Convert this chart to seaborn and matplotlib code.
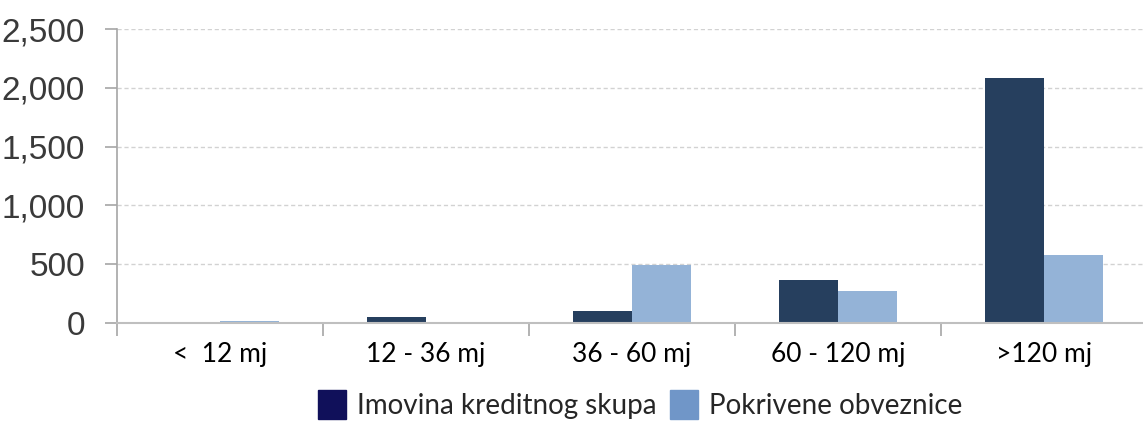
import matplotlib
matplotlib.use("Agg")
import matplotlib.pyplot as plt
import matplotlib.patches as mpatches
import seaborn as sns
import pandas as pd

categories = ["<  12 mj", "12 - 36 mj", "36 - 60 mj", "60 - 120 mj", ">120 mj"]
series_names = ["Imovina kreditnog skupa", "Pokrivene obveznice"]
imovina = [0, 48, 102, 366, 2083]
pokrivene = [15, 0, 493, 272, 578]
yticks = [0, 500, 1000, 1500, 2000, 2500]

df = pd.DataFrame({
    "cat": categories * 2,
    "series": [series_names[0]] * 5 + [series_names[1]] * 5,
    "value": imovina + pokrivene,
})

sns.set_style("white")
plt.rcParams['font.family'] = ['Lato', 'DejaVu Sans']

W, H = 1143, 421
fig = plt.figure(figsize=(W / 100, H / 100), dpi=100)
ax = fig.add_axes([117 / W, 98 / H, (W - 117) / W, 294 / H])

bar_colors = ["#263f5e", "#94b3d7"]
sns.barplot(data=df, x="cat", y="value", hue="series", order=categories,
            hue_order=series_names, palette=bar_colors, width=0.57,
            saturation=1, ax=ax, legend=False, linewidth=0)

ax.set_xlim(-0.5, 4.48)
ax.set_ylim(0, 2500)
ax.set_yticks(yticks)
ax.set_yticklabels([f"{v:,}" for v in yticks], family="Liberation Sans",
                   fontsize=24, color="#3a3a3a")
ax.yaxis.grid(True, linestyle=(0, (3, 2)), color="#d2d2d2", linewidth=1)
ax.set_axisbelow(True)

ax.set_xticks([i - 0.5 for i in range(5)], minor=False)
ax.set_xticklabels([])
ax.set_xticks(range(5), minor=True)
ax.set_xticklabels(categories, minor=True, fontsize=19, color="#000000")
ax.tick_params(axis="x", which="major", direction="out", length=9, width=1.2,
               color="#a6a6a6", bottom=True)
ax.tick_params(axis="x", which="minor", length=0, pad=14)
ax.tick_params(axis="y", direction="out", length=9, width=1.2,
               color="#a6a6a6", left=True, pad=14)

ax.set_xlabel("")
ax.set_ylabel("")
for s in ["top", "right"]:
    ax.spines[s].set_visible(False)
ax.spines["left"].set_color("#a6a6a6")
ax.spines["bottom"].set_color("#bfbfbf")
ax.spines["left"].set_linewidth(1.2)
ax.spines["bottom"].set_linewidth(1.5)

handles = [mpatches.Patch(color="#10105a", label=series_names[0]),
           mpatches.Patch(color="#7096c8", label=series_names[1])]
fig.legend(handles=handles, loc="lower center", bbox_to_anchor=(0.56, 2 / H),
           ncol=2, frameon=False, fontsize=20, handlelength=1.0,
           handleheight=1.2, handletextpad=0.4, columnspacing=0.5,
           borderpad=0, borderaxespad=0)

fig.savefig("out.png", dpi=100)
